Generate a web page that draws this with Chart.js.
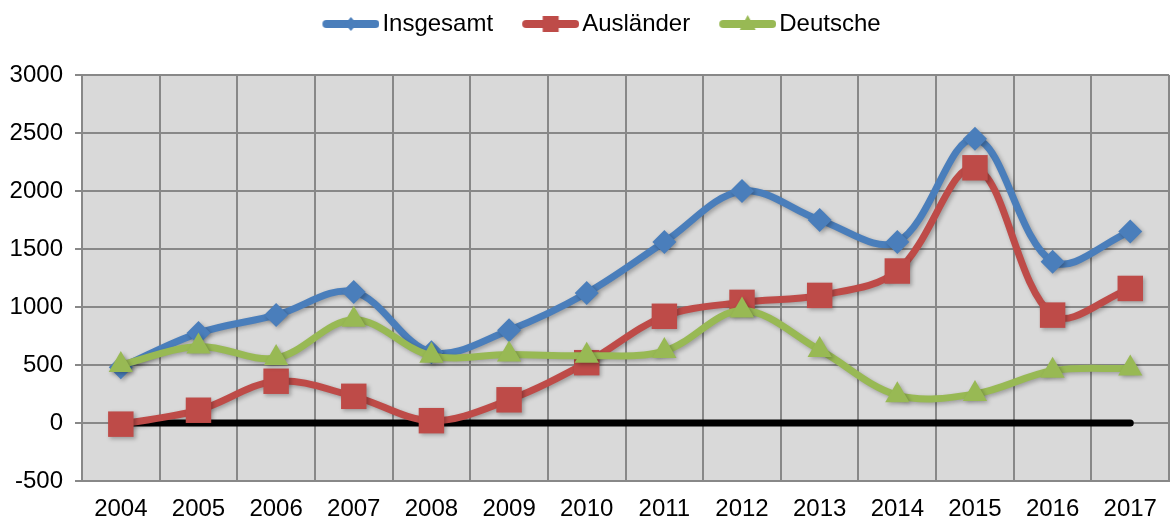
<!DOCTYPE html>
<html>
<head>
<meta charset="utf-8">
<script src="https://cdn.jsdelivr.net/npm/chart.js@4"></script>
<style>
html,body{margin:0;padding:0;background:#fff;}
#wrap{width:1173px;height:520px;position:relative;}
</style>
</head>
<body>
<div id="wrap"><canvas id="c" width="1173" height="520"></canvas></div>
<script>
const years = ['2004','2005','2006','2007','2008','2009','2010','2011','2012','2013','2014','2015','2016','2017'];
const insgesamt = [480, 775, 930, 1130, 610, 800, 1120, 1560, 2000, 1750, 1560, 2450, 1390, 1650];
const auslaender = [-10, 110, 360, 230, 20, 200, 520, 920, 1040, 1100, 1310, 2200, 930, 1160];
const deutsche = [500, 660, 560, 890, 580, 590, 580, 620, 970, 630, 240, 250, 450, 470];
const nullLinie = [0, 0, 0, 0, 0, 0, 0, 0, 0, 0, 0, 0, 0, 0];
const yTicks = [-500, 0, 500, 1000, 1500, 2000, 2500, 3000];

const BLUE = '#4A7EBB', RED = '#BE4B48', GREEN = '#98B954';
const FONT = "'Liberation Sans', Arial, sans-serif";

function legendIcon(color, style) {
  const cv = document.createElement('canvas');
  cv.width = 88; cv.height = 24;
  const g = cv.getContext('2d');
  g.strokeStyle = color; g.lineWidth = 8; g.lineCap = 'round';
  g.beginPath(); g.moveTo(35, 12); g.lineTo(84, 12); g.stroke();
  g.fillStyle = color;
  g.beginPath();
  const cx = 59.5, cy = 12;
  if (style === 'rectRot') {
    g.moveTo(cx, cy - 7); g.lineTo(cx + 6, cy); g.lineTo(cx, cy + 7); g.lineTo(cx - 6, cy); g.closePath();
  } else if (style === 'rect') {
    g.rect(cx - 8, cy - 8, 16, 16);
  } else {
    g.moveTo(cx, cy - 9); g.lineTo(cx + 8, cy + 6); g.lineTo(cx - 8, cy + 6); g.closePath();
  }
  g.fill();
  return cv;
}
const icons = [legendIcon(BLUE, 'rectRot'), legendIcon(RED, 'rect'), legendIcon(GREEN, 'triangle')];

const bgPlugin = {
  id: 'plotBg',
  beforeDraw(chart) {
    const {ctx, chartArea: a} = chart;
    ctx.save();
    ctx.fillStyle = '#D9D9D9';
    ctx.fillRect(a.left, a.top, a.right - a.left, a.bottom - a.top);
    ctx.restore();
  }
};
const legendGapPlugin = {
  id: 'legendGap',
  beforeInit(chart) {
    const origFit = chart.legend.fit;
    chart.legend.fit = function () {
      origFit.bind(chart.legend)();
      this.height += 29;
    };
  }
};
const shadowPlugin = {
  id: 'shadow',
  beforeDatasetDraw(chart, args) {
    if (args.index > 2) return;
    const ctx = chart.ctx;
    ctx.save();
    ctx.shadowColor = 'rgba(0,0,0,0.28)';
    ctx.shadowBlur = 4;
    ctx.shadowOffsetX = 2;
    ctx.shadowOffsetY = 2;
  },
  afterDatasetDraw(chart, args) {
    if (args.index > 2) return;
    chart.ctx.restore();
  }
};

function series(label, data, color, style, radius, order) {
  return {
    label, data, order,
    borderColor: color, backgroundColor: color,
    borderWidth: 7, tension: 0.35, fill: false,
    borderCapStyle: 'round', borderJoinStyle: 'round',
    pointStyle: style, pointRadius: radius, pointHoverRadius: radius,
    pointBackgroundColor: color, pointBorderColor: color, pointBorderWidth: 0
  };
}

new Chart(document.getElementById('c'), {
  type: 'line',
  data: {
    labels: years,
    datasets: [
      series('Insgesamt', insgesamt, BLUE, 'rectRot', 12, 3),
      series('Ausländer', auslaender, RED, 'rect', 18, 2),
      series('Deutsche', deutsche, GREEN, 'triangle', 14, 1),
      {
        label: 'Null', data: nullLinie, order: 4,
        borderColor: '#000', borderWidth: 7, pointRadius: 0, tension: 0,
        borderCapStyle: 'round', fill: false
      }
    ]
  },
  options: {
    responsive: false,
    animation: false,
    layout: { autoPadding: false, padding: { left: 9, right: 1, top: 5, bottom: 0 } },
    plugins: {
      tooltip: { enabled: false },
      legend: {
        position: 'top',
        labels: {
          filter: (item) => item.datasetIndex < 3,
          sort: (a, b) => a.datasetIndex - b.datasetIndex,
          usePointStyle: true,
          pointStyleWidth: 70,
          boxHeight: 24,
          padding: 7,
          color: '#000',
          font: { family: FONT, size: 24 },
          generateLabels: (chart) => chart.data.datasets.map((ds, i) => ({
            text: ds.label, datasetIndex: i, pointStyle: icons[i] || 'line',
            fillStyle: ds.borderColor, strokeStyle: ds.borderColor, lineWidth: 0, hidden: false
          }))
        }
      }
    },
    scales: {
      x: {
        offset: true,
        afterFit: (s) => { s.height = 39; },
        grid: { offset: true, color: '#888888', lineWidth: 2, drawTicks: false },
        border: { color: '#888888', width: 2 },
        ticks: { color: '#000', font: { family: FONT, size: 24, lineHeight: 1 }, padding: 16, maxRotation: 0 }
      },
      y: {
        min: -500, max: 3000,
        afterBuildTicks: (axis) => { axis.ticks = yTicks.map(v => ({ value: v })); },
        afterFit: (s) => { s.width = 73; },
        grid: { color: '#888888', lineWidth: 2, drawTicks: true, tickLength: 7 },
        border: { color: '#888888', width: 2 },
        ticks: { color: '#000', font: { family: FONT, size: 24 }, padding: 12, callback: (v) => String(v) }
      }
    }
  },
  plugins: [bgPlugin, legendGapPlugin, shadowPlugin]
});
</script>
</body>
</html>
